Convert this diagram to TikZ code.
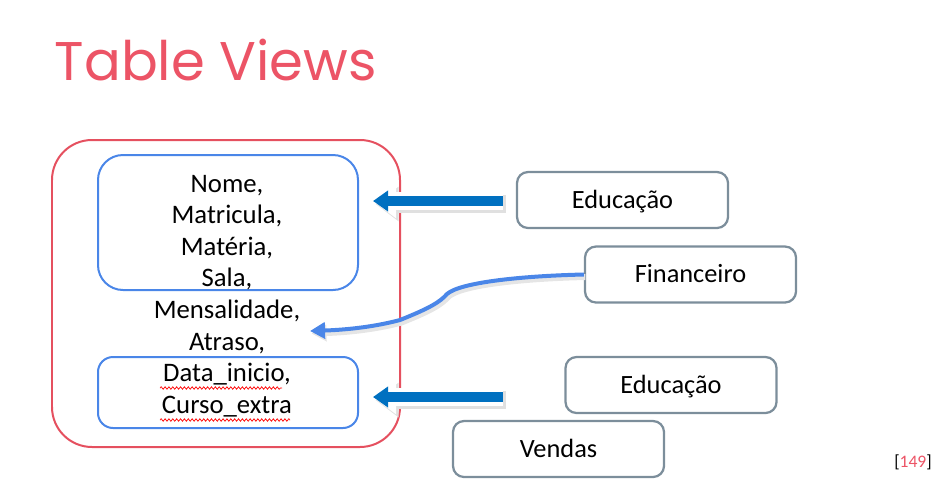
\documentclass[tikz,border=0pt]{standalone}
\usepackage{fontspec}
\setmainfont{Carlito}
\newfontfamily\titlefont{Poppins}
\usepackage{tikz}
\usetikzlibrary{arrows.meta,decorations.pathmorphing}

\definecolor{titlered}{HTML}{EC5466}
\definecolor{boxred}{HTML}{E5505F}
\definecolor{viewblue}{HTML}{4A86E8}
\definecolor{arrowblue}{HTML}{0070C0}
\definecolor{slate}{HTML}{7C8E9B}

\begin{document}
\begin{tikzpicture}[
  viewbox/.style={draw=viewblue, line width=0.04cm},
  deptbox/.style={draw=slate, line width=0.045cm, rounded corners=0.22cm,
    minimum width=4.22cm, minimum height=1.12cm,
    text height=11.25pt, text depth=1.6pt,
    font=\fontsize{15}{18}\selectfont},
  blockarrow/.style={draw=arrowblue, line width=0.2cm,
    -{Triangle[width=0.4cm,length=0.3cm]},
    preaction={draw=black!12, line width=0.36cm,
      -{Triangle[width=0.66cm,length=0.46cm]},
      transform canvas={shift={(0.05,-0.06)}}},
    preaction={draw=white, line width=0.36cm,
      -{Triangle[width=0.66cm,length=0.46cm]}}},
  curvearrow/.style={draw=viewblue, line width=0.08cm,
    -{Triangle[width=0.32cm,length=0.3cm]},
    preaction={draw=black!10, line width=0.12cm,
      transform canvas={shift={(0.03,-0.05)}}}},
  spellmark/.style={draw=red, line width=0.4pt,
    decorate, decoration={snake, segment length=2.2pt, amplitude=0.7pt}}
]
\useasboundingbox (0,0) rectangle (18.7,9.8);

\node[anchor=base west, text=titlered, font=\titlefont\fontsize{31}{36}\selectfont]
  (title) at (0.97,8.2) {Table Views};

% the table and its two views
\draw[boxred, line width=0.04cm, rounded corners=0.8cm] (1.04,0.86) rectangle (8.00,7.00);
\draw[viewbox, rounded corners=0.5cm] (1.96,4.00) rectangle (7.16,6.70);
\draw[viewbox, rounded corners=0.3cm] (1.96,1.24) rectangle (7.16,2.66);

\node[align=center, font=\fontsize{15.2}{18}\selectfont] (cols) at (4.54,3.88)
  {Nome,\\ Matricula,\\ Matéria,\\ Sala,\\ Mensalidade,\\ Atraso,\\ Data\_inicio,\\ Curso\_extra};
\draw[spellmark] (3.20,2.04) -- (5.64,2.04);
\draw[spellmark] (3.20,1.40) -- (5.80,1.40);

% departments
\node[deptbox] (edu1) at (12.45,5.80) {Educação};
\node[deptbox] (fin) at (13.81,4.31) {Financeiro};
\node[deptbox] (edu2) at (13.42,2.10) {Educação};
\node[deptbox] (vendas) at (11.17,0.82) {Vendas};

\node[anchor=base, font=\fontsize{10}{12}\selectfont] (page) at (18.26,0.46)
  {[\textcolor{titlered}{149}]};

\coordinate (a1s) at (10.06,5.78);
\coordinate (a1e) at (7.46,5.78);
\coordinate (a2s) at (10.06,1.86);
\coordinate (a2e) at (7.46,1.86);
\coordinate (fine) at (6.20,3.18);

\draw[blockarrow] (a1s) -- (a1e);
\draw[blockarrow] (a2s) -- (a2e);
\draw[curvearrow] (fin.west) .. controls (10.4,4.28) and (9.2,4.15) .. (8.94,3.92)
  .. controls (8.80,3.76) and (8.6,3.64) .. (8.0,3.40)
  .. controls (7.4,3.24) and (6.8,3.20) .. (fine);
\end{tikzpicture}
\end{document}
